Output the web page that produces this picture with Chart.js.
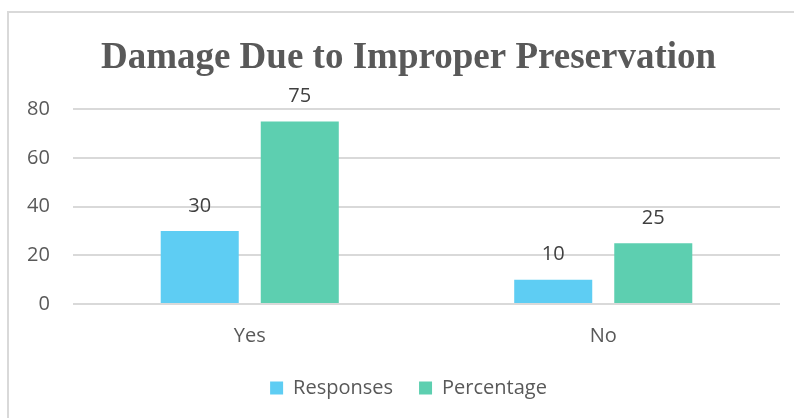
<!DOCTYPE html>
<html>
<head>
<meta charset="utf-8">
<script src="https://cdn.jsdelivr.net/npm/chart.js@4.4.1/dist/chart.umd.min.js"></script>
<style>
    html, body { margin: 0; padding: 0; background: #fff; overflow: hidden; }
    .frame {
        position: absolute; left: 7px; top: 11px; width: 820px; height: 440px;
        border-top: 2px solid #d9d9d9; border-left: 2px solid #d9d9d9;
    }
    .wrap { position: absolute; left: 0; top: 0; width: 794px; height: 418px; }
</style>
</head>
<body>
<div class="frame"></div>
<div class="wrap"><canvas id="chart"></canvas></div>
<script>
const categories = ['Yes', 'No'];
const responses = [30, 10];
const percentage = [75, 25];
const yTicks = [0, 20, 40, 60, 80];

const TEXT = '#595959';
const LABEL_FONT = { family: 'Open Sans', size: 20 };

// value labels above each bar
const barLabels = {
    id: 'barLabels',
    afterDatasetsDraw(chart) {
        const ctx = chart.ctx;
        ctx.save();
        ctx.font = '20px "Open Sans"';
        ctx.fillStyle = '#404040';
        ctx.textAlign = 'center';
        ctx.textBaseline = 'middle';
        chart.data.datasets.forEach((ds, i) => {
            chart.getDatasetMeta(i).data.forEach((bar, j) => {
                ctx.fillText(ds.data[j], bar.x, bar.y - 25);
            });
        });
        ctx.restore();
    }
};

new Chart(document.getElementById('chart'), {
    type: 'bar',
    data: {
        labels: categories,
        datasets: [
            { label: 'Responses', data: responses, backgroundColor: '#5ecdf3' },
            { label: 'Percentage', data: percentage, backgroundColor: '#5dcfb0' }
        ]
    },
    options: {
        responsive: true,
        maintainAspectRatio: false,
        animation: false,
        layout: { padding: { left: 37, right: 14, top: 0, bottom: 10 } },
        datasets: {
            bar: { categoryPercentage: 0.566, barPercentage: 0.78 }
        },
        scales: {
            x: {
                grid: { display: false, drawTicks: false },
                border: { display: false },
                ticks: { color: TEXT, font: LABEL_FONT, padding: 20 },
                afterFit: (scale) => { scale.height = 48; }
            },
            y: {
                min: 0,
                max: 80,
                grid: { color: '#d9d9d9', lineWidth: 2, drawTicks: false },
                border: { display: false },
                ticks: {
                    color: TEXT,
                    font: LABEL_FONT,
                    // mirrored labels are not clipped to the narrow axis box,
                    // so pull them back left of the plot and right-align them
                    mirror: true,
                    crossAlign: 'far',
                    padding: -46,
                    stepSize: 20,
                    callback: (v) => yTicks.includes(v) ? String(v) : ''
                },
                afterFit: (scale) => { scale.width = 36; }
            }
        },
        plugins: {
            title: {
                display: true,
                text: 'Damage Due to Improper Preservation',
                color: TEXT,
                font: { family: 'Liberation Serif', size: 37, weight: 'bold' },
                padding: { top: 36, bottom: 29 }
            },
            legend: {
                position: 'bottom',
                labels: {
                    color: TEXT,
                    font: LABEL_FONT,
                    boxWidth: 13,
                    boxHeight: 13,
                    padding: 26
                }
            },
            tooltip: { enabled: false }
        }
    },
    plugins: [barLabels]
});
</script>
</body>
</html>
